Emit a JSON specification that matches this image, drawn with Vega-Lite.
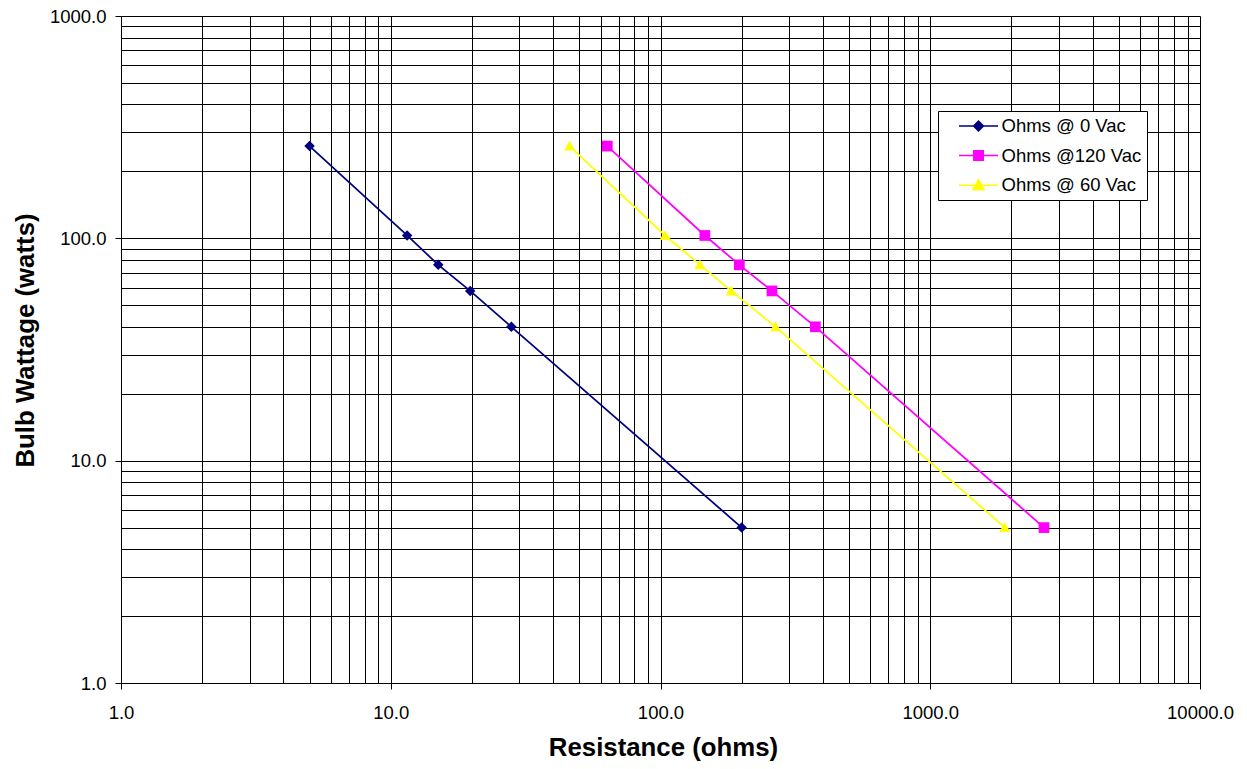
{
  "$schema": "https://vega.github.io/schema/vega-lite/v6.json",
  "width": 1079,
  "height": 667,
  "autosize": "none",
  "padding": {"left": 121, "top": 16, "right": 47, "bottom": 86},
  "background": "white",
  "config": {"font": "Liberation Sans", "view": {"stroke": null}},
  "data": {
    "values": [
      {"series": "Ohms @ 0 Vac", "ohms": 5.0, "watts": 260},
      {"series": "Ohms @ 0 Vac", "ohms": 11.5, "watts": 103},
      {"series": "Ohms @ 0 Vac", "ohms": 15.0, "watts": 76},
      {"series": "Ohms @ 0 Vac", "ohms": 19.7, "watts": 58},
      {"series": "Ohms @ 0 Vac", "ohms": 28.0, "watts": 40},
      {"series": "Ohms @ 0 Vac", "ohms": 200, "watts": 5},
      {"series": "Ohms @120 Vac", "ohms": 63.5, "watts": 260},
      {"series": "Ohms @120 Vac", "ohms": 146, "watts": 103},
      {"series": "Ohms @120 Vac", "ohms": 196, "watts": 76},
      {"series": "Ohms @120 Vac", "ohms": 259, "watts": 58},
      {"series": "Ohms @120 Vac", "ohms": 375, "watts": 40},
      {"series": "Ohms @120 Vac", "ohms": 2640, "watts": 5},
      {"series": "Ohms @ 60 Vac", "ohms": 46, "watts": 260},
      {"series": "Ohms @ 60 Vac", "ohms": 104, "watts": 103},
      {"series": "Ohms @ 60 Vac", "ohms": 140, "watts": 76},
      {"series": "Ohms @ 60 Vac", "ohms": 183, "watts": 58},
      {"series": "Ohms @ 60 Vac", "ohms": 267, "watts": 40},
      {"series": "Ohms @ 60 Vac", "ohms": 1890, "watts": 5}
    ]
  },
  "encoding": {
    "x": {
      "field": "ohms",
      "type": "quantitative",
      "scale": {"type": "log", "domain": [1, 10000], "nice": false},
      "axis": {
        "title": "Resistance (ohms)",
        "values": [1,2,3,4,5,6,7,8,9,10,20,30,40,50,60,70,80,90,100,200,300,400,500,600,700,800,900,1000,2000,3000,4000,5000,6000,7000,8000,9000,10000],
        "labelExpr": "indexof([1,10,100,1000,10000], datum.value) >= 0 ? format(datum.value, '.1f') : ''",
        "labelOverlap": false,
        "labelFlush": false,
        "labelFontSize": 18.5,
        "labelColor": "#000",
        "labelBaseline": "alphabetic",
        "labelPadding": 29,
        "tickSize": 6,
        "tickColor": "#000",
        "tickOpacity": {"condition": {"test": "indexof([1,10,100,1000,10000], datum.value) >= 0", "value": 1}, "value": 0},
        "grid": true,
        "gridColor": "#000",
        "gridOpacity": 1,
        "gridWidth": 1,
        "domainColor": "#000",
        "domainWidth": 1,
        "titleFontSize": 25.8,
        "titleFontWeight": "bold",
        "titleColor": "#000",
        "titleBaseline": "alphabetic",
        "titleX": 542,
        "titleY": 72
      }
    },
    "y": {
      "field": "watts",
      "type": "quantitative",
      "scale": {"type": "log", "domain": [1, 1000], "nice": false},
      "axis": {
        "title": "Bulb Wattage (watts)",
        "values": [1,2,3,4,5,6,7,8,9,10,20,30,40,50,60,70,80,90,100,200,300,400,500,600,700,800,900,1000],
        "labelExpr": "indexof([1,10,100,1000], datum.value) >= 0 ? format(datum.value, '.1f') : ''",
        "labelOverlap": false,
        "labelFontSize": 18.5,
        "labelColor": "#000",
        "labelPadding": 9,
        "tickSize": 6,
        "tickColor": "#000",
        "tickOpacity": {"condition": {"test": "indexof([1,10,100,1000], datum.value) >= 0", "value": 1}, "value": 0},
        "grid": true,
        "gridColor": "#000",
        "gridOpacity": 1,
        "gridWidth": 1,
        "domainColor": "#000",
        "domainWidth": 1,
        "titleFontSize": 25.8,
        "titleFontWeight": "bold",
        "titleColor": "#000",
        "titleBaseline": "alphabetic",
        "titleAngle": 270,
        "titleX": -88,
        "titleY": 324
      }
    },
    "color": {
      "field": "series",
      "type": "nominal",
      "scale": {"domain": ["Ohms @ 0 Vac", "Ohms @120 Vac", "Ohms @ 60 Vac"], "range": ["#000080", "#FF00FF", "#FFFF00"]},
      "legend": {
        "title": null,
        "orient": "none",
        "legendX": 817,
        "legendY": 95,
        "fillColor": "white",
        "strokeColor": "#000",
        "padding": 5,
        "labelFontSize": 18.5,
        "labelColor": "#000",
        "labelOffset": 13,
        "symbolSize": 320,
        "symbolOffset": 25.5,
        "symbolStrokeWidth": 1.5,
        "rowPadding": 9.6,
        "encode": {
          "symbols": {
            "update": {
              "shape": {"signal": "datum.value === 'Ohms @ 0 Vac' ? 'M-2.18,0H2.18M-0.55,0L0,-0.55L0.55,0L0,0.55Z' : (datum.value === 'Ohms @120 Vac' ? 'M-2.18,0H2.18M-0.53,-0.53H0.53V0.53H-0.53Z' : 'M-2.18,0H2.18M-0.62,0.5L0,-0.62L0.62,0.5Z')"},
              "stroke": {"signal": "scale('color', datum.value)"},
              "fill": {"signal": "scale('color', datum.value)"},
              "strokeWidth": {"value": 1.5},
              "opacity": {"value": 1},
              "fillOpacity": {"value": 1}
            }
          },
          "entries": {
            "width": {"value": 219}
          }
        }
      }
    }
  },
  "layer": [
    {"mark": {"type": "line", "strokeWidth": 1.75}, "encoding": {}},
    {
      "transform": [{"filter": "datum.series === 'Ohms @ 0 Vac'"}],
      "mark": {"type": "point", "filled": true, "opacity": 1, "size": 110, "shape": "diamond"},
      "encoding": {}
    },
    {
      "transform": [{"filter": "datum.series === 'Ohms @120 Vac'"}],
      "mark": {"type": "point", "filled": true, "opacity": 1, "size": 115, "shape": "square"},
      "encoding": {}
    },
    {
      "transform": [{"filter": "datum.series === 'Ohms @ 60 Vac'"}],
      "mark": {"type": "point", "filled": true, "opacity": 1, "size": 110, "shape": "M0,-1L1.05,0.85L-1.05,0.85Z"},
      "encoding": {}
    }
  ]
}
